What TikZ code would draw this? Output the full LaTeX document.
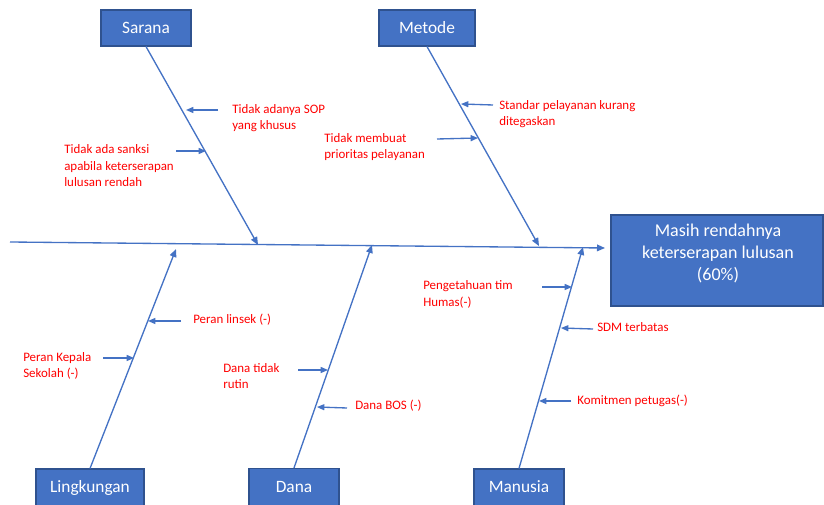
\documentclass[tikz,border=0pt]{standalone}
\usepackage{fontspec}
\setmainfont{Carlito}
\usetikzlibrary{arrows.meta}
\definecolor{boxblue}{HTML}{4472C4}
\definecolor{boxline}{HTML}{2F528F}
\definecolor{bone}{HTML}{4472C4}
\begin{document}
\begin{tikzpicture}[x=0.75pt,y=-0.75pt,
  catbox/.style={draw=boxline, fill=boxblue, text=white, line width=0.8pt,
    minimum width=67.5pt, minimum height=27pt, inner sep=0pt,
    font=\fontsize{13}{16}\selectfont},
  effbox/.style={draw=boxline, fill=boxblue, line width=0.8pt,
    minimum width=159pt, minimum height=68.25pt, inner sep=0pt},
  efftext/.style={text=white, align=center, inner sep=0pt,
    font=\fontsize{13.5}{16.5}\selectfont},
  cause/.style={text=red, align=left, anchor=west, inner sep=0pt,
    font=\fontsize{9.7}{12.4}\selectfont},
  bonearrow/.style={draw=bone, line width=1pt, -{Triangle[length=6pt,width=5pt]}},
  small/.style={draw=bone, line width=1pt, -{Triangle[length=5.5pt,width=4.5pt]}}
]
\useasboundingbox (0,0) rectangle (824,505);

% effect box
\node[effbox] (effect) at (717,260.5) {};
\node[efftext] (efftxt) at (718,254) {Masih rendahnya\\keterserapan lulusan\\(60\%)};

% category boxes
\node[catbox] (sarana) at (146,28) {Sarana};
\node[catbox, minimum width=72pt] (metode) at (427,28) {Metode};
\node[catbox, minimum width=81pt, minimum height=28.5pt] (lingk) at (90,488) {\raisebox{1.5pt}{Lingkungan}};
\node[catbox, minimum height=28.5pt] (dana) at (294,487.5) {\raisebox{1.5pt}{Dana}};
\node[catbox, minimum height=28.5pt] (manusia) at (519,488) {\raisebox{1.5pt}{Manusia}};

% spine
\coordinate (tail) at (10,242);
\coordinate (head) at (605,248);
\draw[bonearrow] (tail) -- (head);

% bone tips
\coordinate (tS) at (258,245);
\coordinate (tM) at (539,246);
\coordinate (tL) at (176,249);
\coordinate (tD) at (372,245);
\coordinate (tH) at (583,247);
\draw[bonearrow] (sarana.south) -- (tS);
\draw[bonearrow] (metode.south) -- (tM);
\draw[bonearrow] (lingk.north) -- (tL);
\draw[bonearrow] (dana.north) -- (tD);
\draw[bonearrow] (manusia.north) -- (tH);

% causes: Sarana
\node[cause] (c1) at (232,118) {Tidak adanya SOP\\yang khusus};
\coordinate (c1a) at (218,110); \coordinate (c1b) at (186,110);
\draw[small] (c1a) -- (c1b);
\node[cause] (c2) at (64,166) {Tidak ada sanksi\\apabila keterserapan\\lulusan rendah};
\coordinate (c2a) at (176,151); \coordinate (c2b) at (206,151);
\draw[small] (c2a) -- (c2b);

% causes: Metode
\node[cause] (c3) at (499,114) {Standar pelayanan kurang\\ditegaskan};
\coordinate (c3a) at (493,105); \coordinate (c3b) at (461,104);
\draw[small] (c3a) -- (c3b);
\node[cause] (c4) at (324,147) {Tidak membuat\\prioritas pelayanan};
\coordinate (c4a) at (437,139); \coordinate (c4b) at (478,138);
\draw[small] (c4a) -- (c4b);

% causes: Lingkungan
\node[cause] (c5) at (193,320) {Peran linsek (-)};
\coordinate (c5a) at (181,321); \coordinate (c5b) at (148,321);
\draw[small] (c5a) -- (c5b);
\node[cause] (c6) at (23,366) {Peran Kepala\\Sekolah (-)};
\coordinate (c6a) at (103,358); \coordinate (c6b) at (134,358);
\draw[small] (c6a) -- (c6b);

% causes: Dana
\node[cause] (c7) at (223,376) {Dana tidak\\rutin};
\coordinate (c7a) at (298,370); \coordinate (c7b) at (328,370);
\draw[small] (c7a) -- (c7b);
\node[cause] (c8) at (355,406) {Dana BOS (-)};
\coordinate (c8a) at (347,408); \coordinate (c8b) at (317,407);
\draw[small] (c8a) -- (c8b);

% causes: Manusia
\node[cause] (c9) at (423,294.5) {Pengetahuan tim\\Humas(-)};
\coordinate (c9a) at (542,287); \coordinate (c9b) at (572,287);
\draw[small] (c9a) -- (c9b);
\node[cause] (c10) at (597,327) {SDM terbatas};
\coordinate (c10a) at (593,329); \coordinate (c10b) at (561,328);
\draw[small] (c10a) -- (c10b);
\node[cause] (c11) at (577,401) {Komitmen petugas(-)};
\coordinate (c11a) at (571,401); \coordinate (c11b) at (539,401);
\draw[small] (c11a) -- (c11b);
\end{tikzpicture}
\end{document}
